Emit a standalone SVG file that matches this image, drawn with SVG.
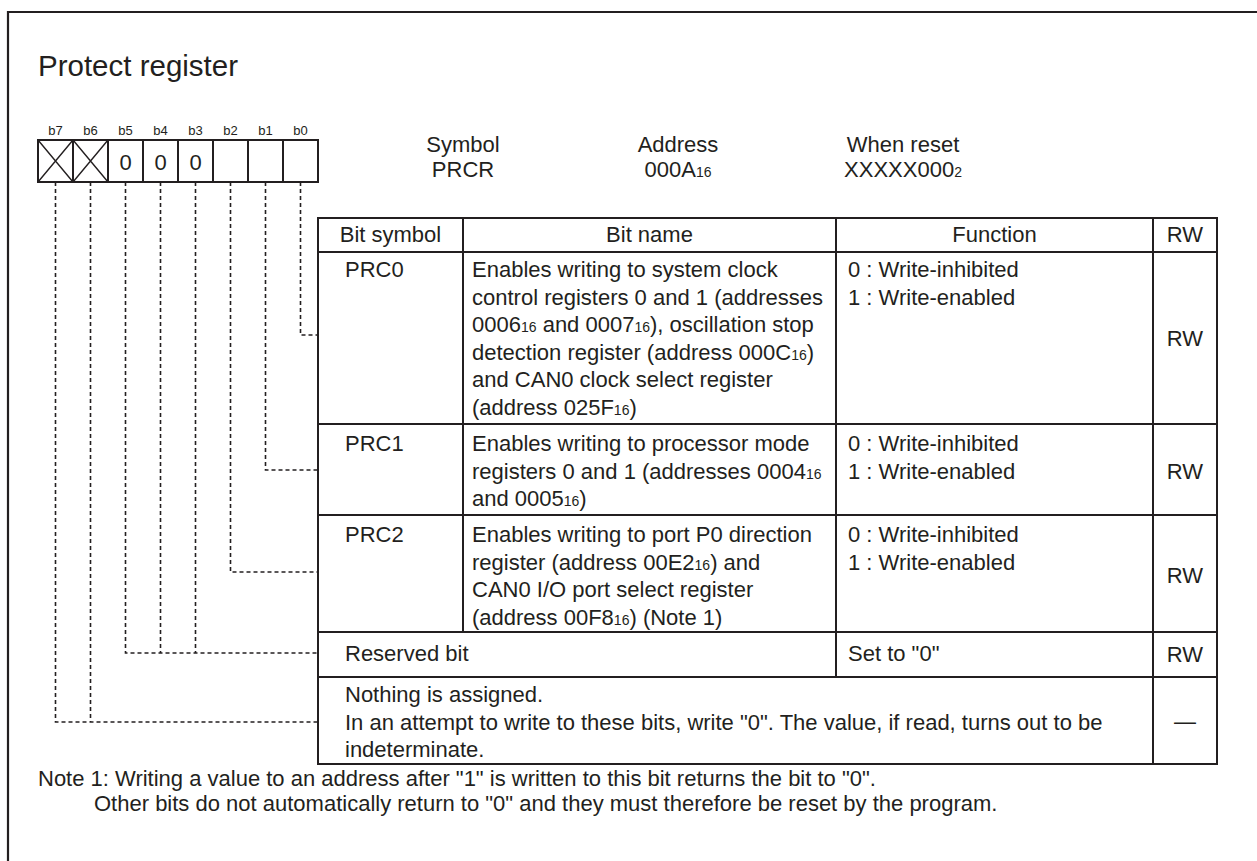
<svg xmlns="http://www.w3.org/2000/svg" width="1257" height="861" viewBox="0 0 1257 861">
  <style>
    text { font-family: "Liberation Sans", Arial, Helvetica, sans-serif; fill: #231f20; font-size: 22px; }
    .title { font-size: 29.5px; }
    .bitlbl { font-size: 13px; text-anchor: middle; }
    .mid { text-anchor: middle; }
    .sub { font-size: 14px; }
    .frame { fill: none; stroke: #231f20; stroke-width: 2.2; }
    .grid { fill: none; stroke: #231f20; stroke-width: 2; }
    .thin { fill: none; stroke: #231f20; stroke-width: 1.4; }
    .dash { fill: none; stroke: #231f20; stroke-width: 1.6; stroke-dasharray: 4 3; }
  </style>

  <rect width="1257" height="861" fill="#ffffff"/>

  <!-- outer frame: left and top edges -->
  <g id="frame">
    <path class="frame" d="M8,861 V12 H1257"/>
  </g>

  <g id="title">
    <text class="title" x="38" y="76">Protect register</text>
  </g>

  <!-- 8-bit register layout -->
  <g id="register">
    <text class="bitlbl" x="55.5" y="135">b7</text>
    <text class="bitlbl" x="90.5" y="135">b6</text>
    <text class="bitlbl" x="125.5" y="135">b5</text>
    <text class="bitlbl" x="160.5" y="135">b4</text>
    <text class="bitlbl" x="195.5" y="135">b3</text>
    <text class="bitlbl" x="230.5" y="135">b2</text>
    <text class="bitlbl" x="265.5" y="135">b1</text>
    <text class="bitlbl" x="300.5" y="135">b0</text>
    <rect class="grid" x="38" y="140" width="280" height="42"/>
    <path class="grid" d="M73,140 V182 M108,140 V182 M143,140 V182 M178,140 V182 M213,140 V182 M248,140 V182 M283,140 V182"/>
    <path class="thin" d="M38,140 L73,182 M73,140 L38,182 M73,140 L108,182 M108,140 L73,182"/>
    <text class="mid" x="125.5" y="170">0</text>
    <text class="mid" x="160.5" y="170">0</text>
    <text class="mid" x="195.5" y="170">0</text>
  </g>

  <g id="info">
    <text class="mid" x="463" y="152">Symbol</text>
    <text class="mid" x="463" y="177">PRCR</text>
    <text class="mid" x="678" y="152">Address</text>
    <text class="mid" x="678" y="177">000A<tspan class="sub">16</tspan></text>
    <text class="mid" x="903" y="152">When reset</text>
    <text class="mid" x="903" y="177">XXXXX000<tspan class="sub">2</tspan></text>
  </g>

  <!-- bit table -->
  <g id="table-grid">
    <rect class="grid" x="318" y="218" width="899" height="546"/>
    <path class="grid" d="M318,252 H1217 M318,424 H1217 M318,515 H1217 M318,632 H1217 M318,677 H1217"/>
    <path class="grid" d="M463,218 V632 M836,218 V677 M1153,218 V764"/>
  </g>

  <g id="header">
    <text class="mid" x="390.5" y="242">Bit symbol</text>
    <text class="mid" x="649.5" y="242">Bit name</text>
    <text class="mid" x="994.5" y="242">Function</text>
    <text class="mid" x="1185" y="242">RW</text>
  </g>

  <g id="row-prc0">
    <text x="345" y="277">PRC0</text>
    <text x="472" y="277">Enables writing to system clock</text>
    <text x="472" y="304.6">control registers 0 and 1 (addresses</text>
    <text x="472" y="332.2">0006<tspan class="sub">16</tspan> and 0007<tspan class="sub">16</tspan>), oscillation stop</text>
    <text x="472" y="359.8">detection register (address 000C<tspan class="sub">16</tspan>)</text>
    <text x="472" y="387.4">and CAN0 clock select register</text>
    <text x="472" y="415">(address 025F<tspan class="sub">16</tspan>)</text>
    <text x="848" y="277">0 : Write-inhibited</text>
    <text x="848" y="304.6">1 : Write-enabled</text>
    <text class="mid" x="1185" y="346">RW</text>
  </g>

  <g id="row-prc1">
    <text x="345" y="451">PRC1</text>
    <text x="472" y="451">Enables writing to processor mode</text>
    <text x="472" y="478.6">registers 0 and 1 (addresses 0004<tspan class="sub">16</tspan></text>
    <text x="472" y="506.2">and 0005<tspan class="sub">16</tspan>)</text>
    <text x="848" y="451">0 : Write-inhibited</text>
    <text x="848" y="478.6">1 : Write-enabled</text>
    <text class="mid" x="1185" y="479">RW</text>
  </g>

  <g id="row-prc2">
    <text x="345" y="542">PRC2</text>
    <text x="472" y="542">Enables writing to port P0 direction</text>
    <text x="472" y="569.6">register (address 00E2<tspan class="sub">16</tspan>) and</text>
    <text x="472" y="597.2">CAN0 I/O port select register</text>
    <text x="472" y="624.8">(address 00F8<tspan class="sub">16</tspan>) (Note 1)</text>
    <text x="848" y="542">0 : Write-inhibited</text>
    <text x="848" y="569.6">1 : Write-enabled</text>
    <text class="mid" x="1185" y="583">RW</text>
  </g>

  <g id="row-reserved">
    <text x="345" y="661">Reserved bit</text>
    <text x="848" y="661">Set to "0"</text>
    <text class="mid" x="1185" y="662">RW</text>
  </g>

  <g id="row-unassigned">
    <text x="345" y="702">Nothing is assigned.</text>
    <text x="345" y="729.6">In an attempt to write to these bits, write "0". The value, if read, turns out to be</text>
    <text x="345" y="757.2">indeterminate.</text>
    <text class="mid" x="1185" y="729">—</text>
  </g>

  <!-- dashed leaders from each bit to its table row -->
  <g id="connectors">
    <path class="dash" d="M300.5,182 V335 H318"/>
    <path class="dash" d="M265.5,182 V470 H318"/>
    <path class="dash" d="M230.5,182 V572 H318"/>
    <path class="dash" d="M195.5,182 V653 M160.5,182 V653 M125.5,182 V653 H318"/>
    <path class="dash" d="M90.5,182 V722 M55.5,182 V722 H318"/>
  </g>

  <g id="note">
    <text x="38" y="786">Note 1: Writing a value to an address after "1" is written to this bit returns the bit to "0".</text>
    <text x="94" y="811">Other bits do not automatically return to "0" and they must therefore be reset by the program.</text>
  </g>
</svg>
